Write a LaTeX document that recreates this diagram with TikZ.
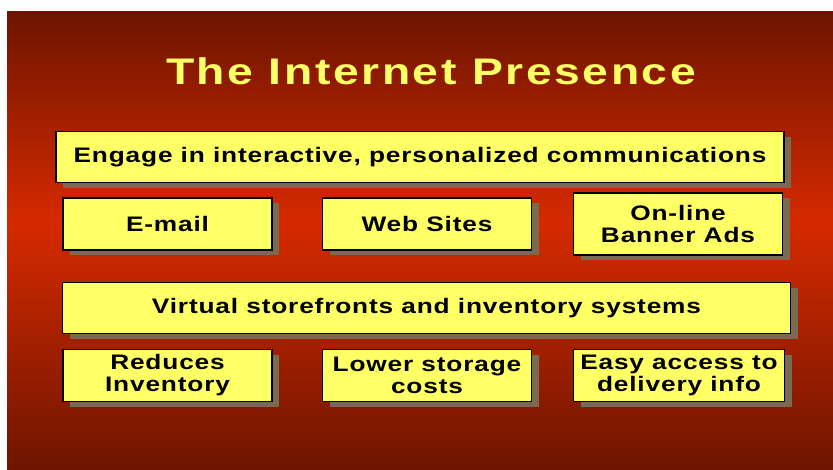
\documentclass[tikz,border=0pt]{standalone}
\usepackage{fontspec}
\newfontfamily\slidefont[FakeStretch=1.25,LetterSpace=4]{Liberation Sans}
\newfontfamily\titlefont[FakeStretch=1.25,LetterSpace=7]{Liberation Sans}
\usepackage{tikz}
\usetikzlibrary{shadows}
\definecolor{slidetop}{HTML}{6C1400}
\definecolor{slidemid}{HTML}{D62A00}
\definecolor{slidebot}{HTML}{6E1500}
\definecolor{boxyellow}{HTML}{FFFF66}
\definecolor{shadebrown}{HTML}{7A6A52}
\pgfdeclareverticalshading{slidebg}{100bp}{color(0bp)=(slidebot); color(25bp)=(slidebot); color(52bp)=(slidemid); color(75bp)=(slidetop); color(100bp)=(slidetop)}
\tikzset{
  item/.style={draw=black,line width=1.5pt,fill=boxyellow,inner sep=0pt,align=center,
    font=\slidefont\bfseries\fontsize{21}{22}\selectfont,
    drop shadow={shadow xshift=7pt,shadow yshift=-5pt,fill=shadebrown,opacity=1}},
  wide/.style={item,minimum width=728pt,minimum height=51pt},
  small/.style={item,minimum width=209pt,minimum height=52pt}
}

\begin{document}
\begin{tikzpicture}[x=1pt,y=-1pt]
\useasboundingbox (0,0) rectangle (833,469);
\shade[shading=slidebg] (7,11) rectangle (833,469);

\node[text=boxyellow,font=\titlefont\bfseries\fontsize{37}{40}\selectfont] (title) at (431,71) {The Internet Presence};

\node[wide] (engage) at (420,157) {Engage in interactive, personalized communications};
\node[small] (email) at (167.5,224) {E-mail};
\node[small] (web) at (427,224) {Web Sites};
\node[small,minimum height=62pt] (banner) at (678,224) {On-line\\Banner Ads};

\node[wide] (virtual) at (426.5,308) {Virtual storefronts and inventory systems};
\node[small] (reduces) at (167.5,375.5) {Reduces\\Inventory};
\node[small] (storage) at (427,375.5) {Lower storage\\costs};
\node[small,minimum width=211pt] (delivery) at (679,375.5) {Easy access to\\delivery info};
\end{tikzpicture}
\end{document}
